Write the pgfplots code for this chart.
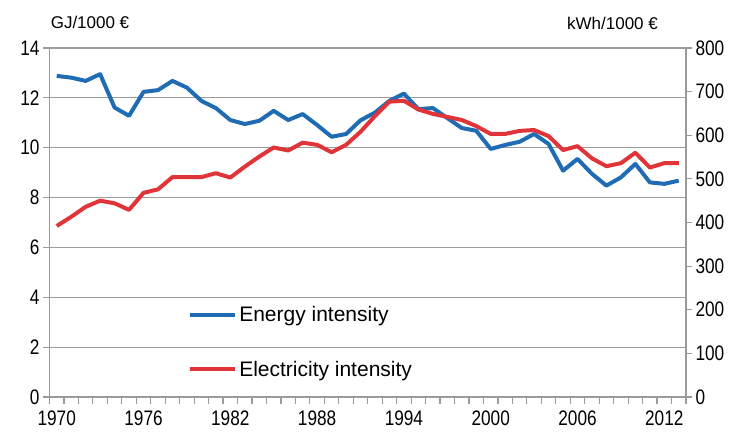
\documentclass[border=0pt]{standalone}
\usepackage{pgfplots}
\pgfplotsset{compat=1.18}
\usepackage{fontspec}
\setmainfont{Liberation Sans}
\newfontfamily\narrowfont{Liberation Sans}[FakeStretch=0.82]
\definecolor{eblue}{RGB}{31,108,181}
\definecolor{ered}{RGB}{224,52,56}
\definecolor{gridgray}{RGB}{155,155,155}
\pgfplotstableread{
year val
1970 12.88
1971 12.81
1972 12.68
1973 12.95
1974 11.61
1975 11.28
1976 12.24
1977 12.31
1978 12.68
1979 12.41
1980 11.88
1981 11.59
1982 11.11
1983 10.95
1984 11.08
1985 11.48
1986 11.11
1987 11.35
1988 10.91
1989 10.44
1990 10.55
1991 11.10
1992 11.41
1993 11.88
1994 12.17
1995 11.55
1996 11.59
1997 11.19
1998 10.79
1999 10.68
2000 9.95
2001 10.11
2002 10.24
2003 10.55
2004 10.15
2005 9.08
2006 9.55
2007 8.95
2008 8.48
2009 8.81
2010 9.35
2011 8.61
2012 8.55
2013 8.68
}\energy
\pgfplotstableread{
year val
1970 392
1971 413
1972 436
1973 450
1974 444
1975 429
1976 468
1977 476
1978 504
1979 504
1980 504
1981 513
1982 503
1983 528
1984 551
1985 572
1986 565
1987 583
1988 578
1989 561
1990 578
1991 608
1992 644
1993 677
1994 679
1995 659
1996 649
1997 642
1998 635
1999 621
2000 603
2001 603
2002 610
2003 612
2004 598
2005 566
2006 575
2007 547
2008 529
2009 536
2010 560
2011 526
2012 536
2013 536
}\electricity
\begin{document}
\begin{tikzpicture}
\useasboundingbox (-49.5bp,-41bp) rectangle (688.5bp,397bp);
\pgfplotsset{
  common/.style={
    scale only axis, width=636.5bp, height=349bp,
    at={(0,0)}, anchor=south west,
    xmin=1969.5, xmax=2013.5,
    axis line style={gridgray, line width=1.2bp},
    tick style={gridgray, line width=1.2bp},
    tick align=outside,
    /pgf/number format/assume math mode=true,
    /pgf/number format/1000 sep={},
    ticklabel style={font=\narrowfont\fontsize{21bp}{24bp}\selectfont, text=black},
  },
}
\begin{axis}[common,
  ymin=0, ymax=14, ytick={0,2,...,14},
  ytick pos=left, xtick pos=bottom,
  ymajorgrids, major grid style={gridgray, line width=1.2bp},
  major tick length=6.5bp,
  xtick={1969.5,1970.5,...,2013.5},
  xticklabels={},
  extra x ticks={1970,1976,...,2012},
  extra x tick style={major tick length=0pt, xticklabel style={yshift=-10bp}},
]
\addplot[eblue, line width=4bp, line join=round] table[x=year, y=val] {\energy};
\end{axis}
\begin{axis}[common,
  ymin=0, ymax=800, ytick={0,100,...,800},
  axis y line*=right, axis x line=none,
  major tick length=6bp,
  legend style={draw=none, fill=none, at={(0.213,0.272)}, anchor=north west,
    font=\fontsize{21bp}{24bp}\selectfont, row sep=34bp},
  legend cell align=left,
  legend image code/.code={\draw[#1] (0bp,0bp) -- (45bp,0bp);},
]
\addlegendimage{eblue, line width=4bp}
\addlegendentry{Energy intensity}
\addplot[ered, line width=4bp, line join=round] table[x=year, y=val] {\electricity};
\addlegendentry{Electricity intensity}
\end{axis}
\node[font=\fontsize{17bp}{19bp}\selectfont] at (40.5bp,374.5bp) {GJ/1000 €};
\node[font=\fontsize{17bp}{19bp}\selectfont] at (563bp,374bp) {kWh/1000 €};
\end{tikzpicture}
\end{document}
